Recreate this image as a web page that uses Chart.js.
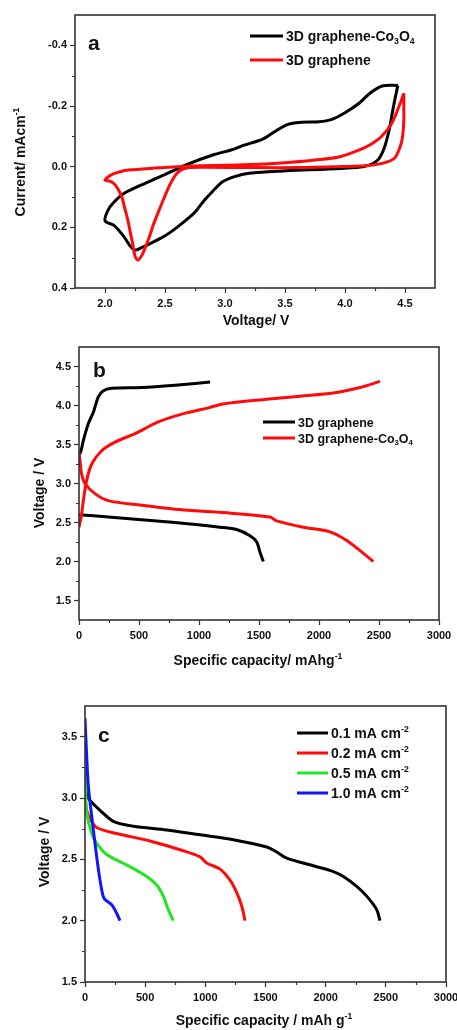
<!DOCTYPE html>
<html>
<head>
<meta charset="utf-8">
<script src="https://cdn.jsdelivr.net/npm/chart.js@4.4.0/dist/chart.umd.min.js"></script>
<style>
  body { margin: 0; background: #fff; width: 457px; height: 1030px; overflow: hidden; }
  canvas { position: absolute; left: 0; }
</style>
</head>
<body>
<canvas id="chartA" width="457" height="335" style="top:0px"></canvas>
<canvas id="chartB" width="457" height="335" style="top:335px"></canvas>
<canvas id="chartC" width="457" height="360" style="top:670px"></canvas>
<script>
const FONT = "'Liberation Sans', Arial, Helvetica, sans-serif";

// ---- (a) cyclic voltammograms ----
const cvCoVolt = [4.44, 4.42, 4.40, 4.37, 4.33, 4.28, 4.22, 4.15, 4.00, 3.80, 3.60, 3.40, 3.20, 3.08, 2.98, 2.90, 2.83, 2.76, 2.71, 2.60, 2.50, 2.38, 2.30, 2.25, 2.21, 2.16, 2.08, 2.00, 2.03, 2.08, 2.15, 2.27, 2.46, 2.69, 2.91, 3.05, 3.16, 3.31, 3.42, 3.53, 3.62, 3.78, 3.89, 4.00, 4.12, 4.21, 4.31, 4.44];
const cvCoCurr = [-0.268, -0.23, -0.19, -0.125, -0.065, -0.025, -0.008, 0.000, 0.005, 0.009, 0.012, 0.016, 0.022, 0.033, 0.050, 0.080, 0.110, 0.145, 0.165, 0.200, 0.228, 0.253, 0.268, 0.275, 0.262, 0.232, 0.195, 0.178, 0.140, 0.115, 0.090, 0.066, 0.033, -0.008, -0.040, -0.055, -0.071, -0.090, -0.117, -0.140, -0.146, -0.148, -0.156, -0.178, -0.210, -0.243, -0.266, -0.268];
const cvGrVolt = [4.49, 4.49, 4.49, 4.48, 4.46, 4.41, 4.31, 4.17, 3.90, 3.60, 3.20, 2.85, 2.70, 2.64, 2.60, 2.56, 2.52, 2.48, 2.44, 2.40, 2.37, 2.34, 2.31, 2.275, 2.25, 2.23, 2.21, 2.19, 2.16, 2.14, 2.11, 2.08, 2.04, 2.00, 2.04, 2.08, 2.15, 2.24, 2.40, 2.60, 2.90, 3.16, 3.50, 3.75, 3.95, 4.12, 4.22, 4.30, 4.39, 4.46, 4.49];
const cvGrCurr = [-0.242, -0.2, -0.154, -0.1, -0.066, -0.027, -0.011, -0.003, 0.000, 0.003, 0.003, 0.002, 0.003, 0.010, 0.022, 0.045, 0.077, 0.115, 0.154, 0.195, 0.231, 0.262, 0.290, 0.308, 0.295, 0.253, 0.215, 0.176, 0.130, 0.099, 0.075, 0.058, 0.048, 0.044, 0.030, 0.022, 0.014, 0.010, 0.005, 0.000, -0.004, -0.006, -0.013, -0.022, -0.032, -0.055, -0.075, -0.098, -0.143, -0.209, -0.242];
const cvXTicks = [2.0, 2.5, 3.0, 3.5, 4.0, 4.5];
const cvYTicks = [-0.4, -0.2, 0.0, 0.2, 0.4];
const cvLegend = ['3D graphene-Co_{3}O_{4}', '3D graphene'];

// ---- (b) charge / discharge, graphene vs graphene-Co3O4 ----
const bGrChargeCap = [0, 17, 36, 78, 119, 161, 203, 272, 522, 800, 1092];
const bGrChargeV = [3.36, 3.42, 3.55, 3.77, 3.91, 4.11, 4.19, 4.22, 4.23, 4.26, 4.30];
const bGrDischargeCap = [0, 244, 800, 1175, 1314, 1425, 1481, 1508, 1536];
const bGrDischargeV = [2.60, 2.57, 2.50, 2.44, 2.41, 2.33, 2.25, 2.12, 2.00];
const bCoChargeCap = [0, 8, 22, 36, 64, 106, 189, 300, 467, 661, 856, 1078, 1200, 1564, 1842, 2120, 2342, 2508];
const bCoChargeV = [2.44, 2.50, 2.61, 2.78, 3.04, 3.25, 3.42, 3.53, 3.64, 3.79, 3.89, 3.97, 4.02, 4.08, 4.12, 4.16, 4.23, 4.31];
const bCoDischargeCap = [0, 8, 22, 50, 133, 244, 522, 800, 1175, 1592, 1647, 1869, 2092, 2231, 2342, 2453];
const bCoDischargeV = [3.40, 3.30, 3.12, 3.00, 2.87, 2.78, 2.72, 2.67, 2.63, 2.57, 2.52, 2.44, 2.38, 2.27, 2.14, 2.00];
const capTicks = [0, 500, 1000, 1500, 2000, 2500, 3000];
const bVoltTicks = [1.5, 2.0, 2.5, 3.0, 3.5, 4.0, 4.5];
const bLegend = ['3D graphene', '3D graphene-Co_{3}O_{4}'];

// ---- (c) discharge at different current densities ----
const cCap01 = [0, 14, 42, 125, 235, 402, 679, 956, 1233, 1510, 1593, 1676, 1925, 2064, 2147, 2258, 2341, 2424, 2451];
const cV01 = [3.08, 3.03, 2.98, 2.90, 2.81, 2.77, 2.74, 2.70, 2.66, 2.60, 2.56, 2.51, 2.44, 2.40, 2.36, 2.28, 2.20, 2.09, 2.00];
const cCap02 = [0, 14, 42, 97, 263, 540, 817, 956, 1011, 1122, 1205, 1260, 1302, 1330];
const cV02 = [3.00, 2.90, 2.83, 2.76, 2.71, 2.65, 2.57, 2.52, 2.47, 2.42, 2.33, 2.23, 2.12, 2.00];
const cCap05 = [0, 7, 14, 56, 97, 180, 374, 513, 596, 651, 692, 734];
const cV05 = [3.25, 3.00, 2.88, 2.71, 2.63, 2.54, 2.44, 2.36, 2.29, 2.20, 2.09, 2.00];
const cCap10 = [0, 14, 28, 56, 83, 111, 139, 160, 222, 263, 291];
const cV10 = [3.65, 3.34, 3.09, 2.85, 2.63, 2.42, 2.25, 2.18, 2.13, 2.06, 2.00];
const cVoltTicks = [1.5, 2.0, 2.5, 3.0, 3.5];
const cLegend = ['0.1 mA cm^{-2}', '0.2 mA cm^{-2}', '0.5 mA cm^{-2}', '1.0 mA cm^{-2}'];

const BLACK = '#000000', RED = '#ff0a0a', GREEN = '#22e622', BLUE = '#1414ff';

function pts(xs, ys) {
  return xs.map((x, i) => ({ x: x, y: ys[i] }));
}

function mids(ticks) {
  let out = [];
  for (let i = 0; i < ticks.length - 1; i++) out.push((ticks[i] + ticks[i + 1]) / 2);
  return out;
}

// "Co_{3}O_{4}" -> [['Co',''],['3','sub'],['O',''],['4','sub']]
function parseRich(str) {
  let parts = [], re = /([_^])\{([^}]*)\}/g, last = 0, m;
  while ((m = re.exec(str)) !== null) {
    if (m.index > last) parts.push([str.slice(last, m.index), '']);
    parts.push([m[2], m[1] === '_' ? 'sub' : 'sup']);
    last = re.lastIndex;
  }
  if (last < str.length) parts.push([str.slice(last), '']);
  return parts;
}

function drawRich(ctx, str, x, y, size, align) {
  const parts = parseRich(str), small = size * 0.62;
  let w = 0;
  parts.forEach(p => {
    ctx.font = 'bold ' + (p[1] ? small : size) + 'px ' + FONT;
    w += ctx.measureText(p[0]).width;
  });
  let cx = align === 'center' ? x - w / 2 : x;
  ctx.textAlign = 'left';
  ctx.textBaseline = 'alphabetic';
  parts.forEach(p => {
    ctx.font = 'bold ' + (p[1] ? small : size) + 'px ' + FONT;
    let dy = p[1] === 'sub' ? size * 0.2 : (p[1] === 'sup' ? -size * 0.42 : 0);
    ctx.fillText(p[0], cx, y + dy);
    cx += ctx.measureText(p[0]).width;
  });
}

// frame, minor ticks, titles, panel letter and legend
function decor(spec) {
  return {
    id: 'decor',
    afterDraw(chart) {
      const ctx = chart.ctx, a = chart.chartArea;
      const xs = chart.scales.x, ys = chart.scales.y;
      ctx.save();
      ctx.strokeStyle = '#333';
      ctx.lineWidth = 1.2;
      ctx.beginPath();
      spec.xMinor.forEach(v => {
        const p = Math.round(xs.getPixelForValue(v)) + 0.5;
        ctx.moveTo(p, a.bottom); ctx.lineTo(p, a.bottom + 3);
      });
      spec.yMinor.forEach(v => {
        const p = Math.round(ys.getPixelForValue(v)) + 0.5;
        ctx.moveTo(a.left, p); ctx.lineTo(a.left - 3, p);
      });
      ctx.stroke();

      ctx.lineWidth = 1.6;
      ctx.strokeRect(a.left, a.top, a.right - a.left, a.bottom - a.top);

      ctx.fillStyle = '#111';
      ctx.font = 'bold 21px ' + FONT;
      ctx.textAlign = 'left';
      ctx.textBaseline = 'alphabetic';
      ctx.fillText(spec.letter, spec.letterPos[0], spec.letterPos[1]);

      drawRich(ctx, spec.xTitle, spec.xTitlePos[0], spec.xTitlePos[1] + 5, 14, 'center');
      ctx.save();
      ctx.translate(spec.yTitlePos[0], spec.yTitlePos[1]);
      ctx.rotate(-Math.PI / 2);
      drawRich(ctx, spec.yTitle, 0, 5, 14, 'center');
      ctx.restore();

      spec.legend.forEach((label, i) => {
        const y = spec.legPos[1] + i * spec.legGap;
        ctx.strokeStyle = spec.legColors[i];
        ctx.lineWidth = 3;
        ctx.beginPath();
        ctx.moveTo(spec.legPos[0], y);
        ctx.lineTo(spec.legPos[0] + spec.legLen, y);
        ctx.stroke();
        ctx.fillStyle = '#111';
        drawRich(ctx, label, spec.legPos[0] + spec.legLen + 3, y + spec.legSize * 0.36, spec.legSize, 'left');
      });
      ctx.restore();
    }
  };
}

function axis(min, max, majors, width, height, fmt, reverse) {
  return {
    type: 'linear',
    min: min,
    max: max,
    reverse: !!reverse,
    afterBuildTicks: s => { s.ticks = majors.map(v => ({ value: v })); },
    afterFit: s => {
      if (width) s.width = width;
      if (height) s.height = height;
      s.paddingLeft = 0; s.paddingRight = 0; s.paddingTop = 0; s.paddingBottom = 0;
    },
    ticks: {
      autoSkip: false,
      maxRotation: 0,
      padding: width ? 3 : 4,
      color: '#111',
      font: { family: FONT, size: 11, weight: 'bold' },
      callback: fmt
    },
    grid: { drawOnChartArea: false, tickLength: 5, tickColor: '#333', tickWidth: 1.2 },
    border: { display: false },
    title: { display: false }
  };
}

function line(data, color) {
  return { data: data, showLine: true, borderColor: color, backgroundColor: color, borderWidth: 3, pointRadius: 0, tension: 0.3, fill: false };
}

function baseOptions(padTop, padRight, xAxis, yAxis) {
  return {
    responsive: false,
    animation: false,
    devicePixelRatio: 1,
    layout: { padding: { top: padTop, right: padRight, left: 0, bottom: 0 } },
    plugins: { legend: { display: false }, tooltip: { enabled: false } },
    scales: { x: xAxis, y: yAxis }
  };
}

const fix1 = v => v.toFixed(1);
const plain = v => String(v);

// (a)
new Chart(document.getElementById('chartA'), {
  type: 'scatter',
  data: {
    datasets: [
      line(pts(cvGrVolt, cvGrCurr), RED),
      line(pts(cvCoVolt, cvCoCurr), BLACK)
    ]
  },
  options: baseOptions(15, 22,
    axis(1.75, 4.75, cvXTicks, 0, 47, fix1),
    axis(-0.5, 0.4, cvYTicks, 75, 0, fix1, true)),
  plugins: [decor({
    xMinor: mids(cvXTicks), yMinor: mids(cvYTicks),
    letter: 'a', letterPos: [88, 50],
    xTitle: 'Voltage/ V', xTitlePos: [256, 320],
    yTitle: 'Current/ mAcm^{-1}', yTitlePos: [20, 162],
    legend: cvLegend, legColors: [BLACK, RED],
    legPos: [250, 36], legGap: 24, legLen: 33, legSize: 14
  })]
});

// (b)
new Chart(document.getElementById('chartB'), {
  type: 'scatter',
  data: {
    datasets: [
      line(pts(bCoChargeCap, bCoChargeV), RED),
      line(pts(bCoDischargeCap, bCoDischargeV), RED),
      line(pts(bGrChargeCap, bGrChargeV), BLACK),
      line(pts(bGrDischargeCap, bGrDischargeV), BLACK)
    ]
  },
  options: baseOptions(12, 18,
    axis(0, 3000, capTicks, 0, 50, plain),
    axis(1.25, 4.75, bVoltTicks, 79, 0, fix1)),
  plugins: [decor({
    xMinor: mids(capTicks), yMinor: mids(bVoltTicks),
    letter: 'b', letterPos: [93, 42],
    xTitle: 'Specific capacity/ mAhg^{-1}', xTitlePos: [258, 325],
    yTitle: 'Voltage / V', yTitlePos: [39, 158],
    legend: bLegend, legColors: [BLACK, RED],
    legPos: [263, 87], legGap: 16, legLen: 32, legSize: 12.5
  })]
});

// (c)
new Chart(document.getElementById('chartC'), {
  type: 'scatter',
  data: {
    datasets: [
      line(pts(cCap10, cV10), BLUE),
      line(pts(cCap05, cV05), GREEN),
      line(pts(cCap01, cV01), BLACK),
      line(pts(cCap02, cV02), RED)
    ]
  },
  options: baseOptions(36, 11,
    axis(0, 3000, capTicks, 0, 48, plain),
    axis(1.5, 3.75, cVoltTicks, 85, 0, fix1)),
  plugins: [decor({
    xMinor: mids(capTicks), yMinor: mids(cVoltTicks),
    letter: 'c', letterPos: [98, 72],
    xTitle: 'Specific capacity / mAh g^{-1}', xTitlePos: [264, 350],
    yTitle: 'Voltage / V', yTitlePos: [44, 182],
    legend: cLegend, legColors: [BLACK, RED, GREEN, BLUE],
    legPos: [297, 63], legGap: 20, legLen: 31, legSize: 14
  })]
});
</script>
</body>
</html>
